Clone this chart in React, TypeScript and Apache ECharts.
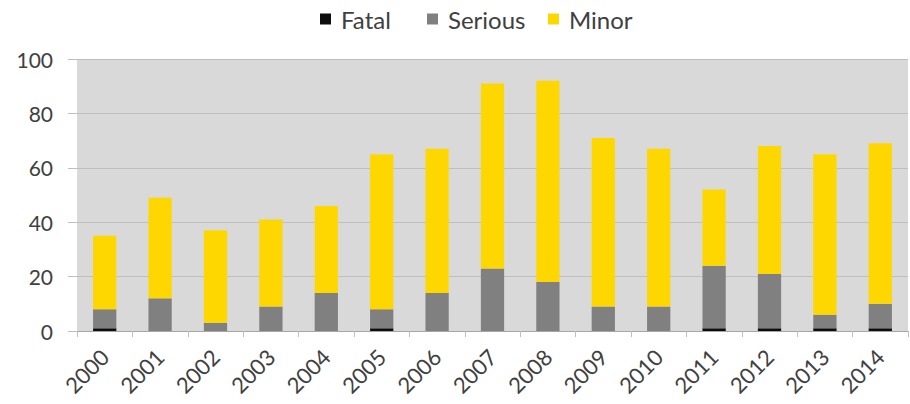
import React, { useEffect, useRef } from "react";
import * as echarts from "echarts";

const years = ["2000","2001","2002","2003","2004","2005","2006","2007","2008","2009","2010","2011","2012","2013","2014"];
const fatal = [1, 0, 0, 0, 0, 1, 0, 0, 0, 0, 0, 1, 1, 1, 1];
const serious = [7, 12, 3, 9, 14, 7, 14, 23, 18, 9, 9, 23, 20, 5, 9];
const minor = [27, 37, 34, 32, 32, 57, 53, 68, 74, 62, 58, 28, 47, 59, 59];
const seriesNames = ["Fatal", "Serious", "Minor"];
const yTicks = { min: 0, max: 100, interval: 20 };

const FONT = "Lato, 'Open Sans', sans-serif";
const TXT = "#404040";

export default function App() {
  const ref = useRef<HTMLDivElement>(null);
  useEffect(() => {
    if (!ref.current) return;
    const chart = echarts.init(ref.current, undefined, { renderer: "svg" });
    const mk = (name: string, data: number[], color: string) => ({
      name,
      type: "bar",
      stack: "total",
      data,
      barWidth: "42%",
      itemStyle: { color },
      emphasis: { disabled: true },
    });
    const legendLefts = [320, 427, 548];
    chart.setOption({
      animation: false,
      textStyle: { fontFamily: FONT },
      legend: seriesNames.map((n, i) => ({
        top: 7,
        left: legendLefts[i],
        padding: 0,
        itemWidth: 11,
        itemHeight: 11,
        icon: "rect",
        selectedMode: false,
        textStyle: { fontFamily: FONT, fontSize: 24, color: TXT, padding: [0, 0, 0, 5] },
        data: [n],
      })),
      grid: {
        left: 77,
        right: 2,
        top: 59,
        bottom: 73,
        show: true,
        backgroundColor: "#d9d9d9",
        borderWidth: 0,
      },
      xAxis: {
        type: "category",
        data: years,
        boundaryGap: true,
        axisLine: { show: true, lineStyle: { color: "#a6a6a6", width: 1 } },
        axisTick: { show: true, length: 6, alignWithLabel: false, lineStyle: { color: "#bfbfbf" } },
        axisLabel: {
          rotate: 45,
          margin: 22,
          fontFamily: FONT,
          fontSize: 22,
          color: TXT,
          interval: 0,
        },
      },
      yAxis: {
        type: "value",
        min: yTicks.min,
        max: yTicks.max,
        interval: yTicks.interval,
        axisLine: { show: false },
        axisTick: { show: true, length: 9, lineStyle: { color: "#bfbfbf" } },
        splitLine: { show: true, lineStyle: { color: "#bfbfbf", width: 1 } },
        axisLabel: { margin: 24, fontFamily: FONT, fontSize: 21, color: TXT },
      },
      series: [
        mk(seriesNames[0], fatal, "#0d0d0d"),
        mk(seriesNames[1], serious, "#808080"),
        mk(seriesNames[2], minor, "#ffd700"),
      ],
    });
    return () => chart.dispose();
  }, []);
  return <div ref={ref} style={{ width: 910, height: 404, position: "absolute", left: 0, top: 0 }} />;
}
